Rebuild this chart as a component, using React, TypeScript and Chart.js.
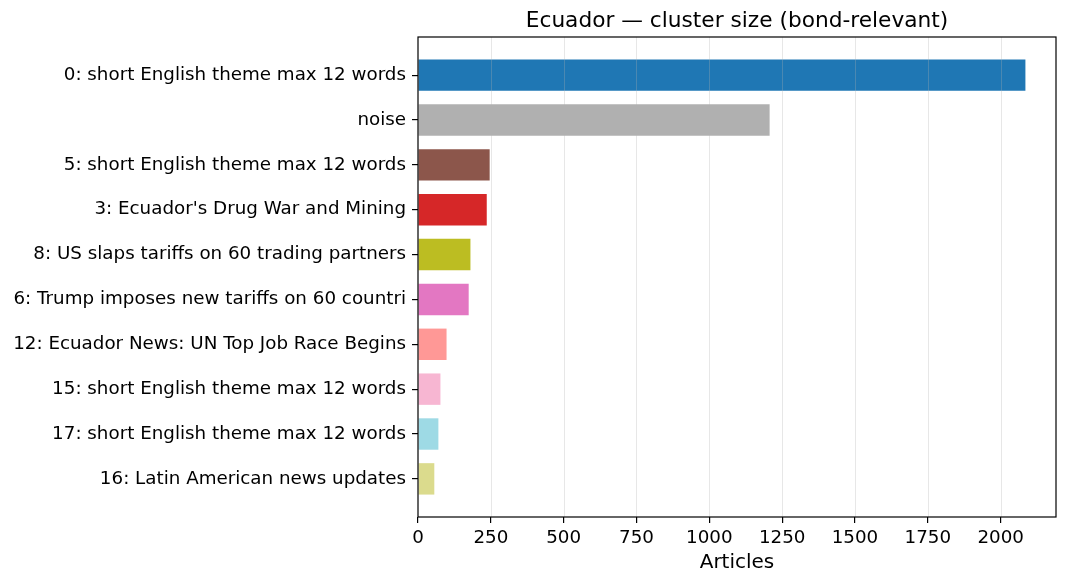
import React, { useEffect, useRef } from 'react';
import { Chart, registerables } from 'chart.js';

Chart.register(...registerables);

const categories = [
  '0: short English theme max 12 words',
  'noise',
  '5: short English theme max 12 words',
  "3: Ecuador's Drug War and Mining",
  '8: US slaps tariffs on 60 trading partners',
  '6: Trump imposes new tariffs on 60 countri',
  '12: Ecuador News: UN Top Job Race Begins',
  '15: short English theme max 12 words',
  '17: short English theme max 12 words',
  '16: Latin American news updates',
];

const articleCounts = [2085, 1207, 246, 236, 180, 174, 98, 77, 70, 56];

const barColors = [
  '#1f77b4',
  '#b0b0b0',
  '#8c564b',
  '#d62728',
  '#bcbd22',
  '#e377c2',
  '#ff9896',
  '#f7b6d2',
  '#9edae5',
  '#dbdb8d',
];

const xTicks = [0, 250, 500, 750, 1000, 1250, 1500, 1750, 2000];

const chartTitle = 'Ecuador — cluster size (bond-relevant)';
const xLabel = 'Articles';

const FONT = '"DejaVu Sans", sans-serif';
const TICK_SIZE = 18.3;

// grid over the bars, frame, title and axis label (matplotlib look)
const overlay = {
  id: 'overlay',
  afterDatasetsDraw(chart: any) {
    const { ctx, chartArea: a, scales } = chart;
    ctx.save();
    ctx.strokeStyle = 'rgba(176,176,176,0.3)';
    ctx.lineWidth = 1;
    xTicks.forEach((v) => {
      if (v === 0) return;
      const x = Math.round(scales.x.getPixelForValue(v)) + 0.5;
      ctx.beginPath();
      ctx.moveTo(x, a.top);
      ctx.lineTo(x, a.bottom);
      ctx.stroke();
    });
    ctx.strokeStyle = '#000';
    ctx.lineWidth = 1.2;
    ctx.strokeRect(a.left, a.top, a.right - a.left, a.bottom - a.top);

    ctx.fillStyle = '#000';
    ctx.textAlign = 'center';
    ctx.textBaseline = 'middle';
    ctx.font = `21.7px ${FONT}`;
    ctx.fillText(chartTitle, (a.left + a.right) / 2, 21);
    ctx.font = `20px ${FONT}`;
    ctx.fillText(xLabel, (a.left + a.right) / 2, 563);
    ctx.restore();
  },
};

const App: React.FC = () => {
  const chartRef = useRef<HTMLCanvasElement>(null);
  const chartInstance = useRef<Chart | null>(null);

  useEffect(() => {
    document.body.style.margin = '0';
    if (!chartRef.current) return;
    const ctx = chartRef.current.getContext('2d');
    if (!ctx) return;

    if (chartInstance.current) {
      chartInstance.current.destroy();
    }

    chartInstance.current = new Chart(ctx, {
      type: 'bar',
      data: {
        datasets: [
          {
            label: 'Articles',
            data: articleCounts.map((v, i) => ({ x: v, y: i })),
            backgroundColor: barColors,
            borderWidth: 0,
            categoryPercentage: 1,
            barPercentage: 0.7,
          },
        ],
      },
      plugins: [overlay],
      options: {
        indexAxis: 'y',
        responsive: true,
        maintainAspectRatio: false,
        animation: false,
        layout: { padding: { top: 37, right: 11, left: 0, bottom: 0 } },
        scales: {
          x: {
            type: 'linear',
            min: 0,
            max: 2190,
            offset: false,
            afterBuildTicks: (scale: any) => {
              scale.ticks = xTicks.map((v) => ({ value: v }));
            },
            afterFit: (scale: any) => {
              scale.height = 67;
            },
            border: { display: false },
            grid: {
              offset: false,
              drawOnChartArea: false,
              drawTicks: true,
              tickLength: 6,
              tickColor: '#000',
              lineWidth: 1.2,
            },
            ticks: {
              color: '#000',
              padding: 4,
              maxRotation: 0,
              font: { family: 'DejaVu Sans', size: TICK_SIZE },
              callback: (value: any) => String(value),
            },
          },
          y: {
            type: 'linear',
            min: -0.85,
            max: 9.85,
            reverse: true,
            offset: false,
            afterBuildTicks: (scale: any) => {
              scale.ticks = categories.map((_, i) => ({ value: i }));
            },
            afterFit: (scale: any) => {
              scale.width = 418;
            },
            border: { display: false },
            grid: {
              offset: false,
              drawOnChartArea: false,
              drawTicks: true,
              tickLength: 6,
              tickColor: '#000',
              lineWidth: 1.2,
            },
            ticks: {
              color: '#000',
              padding: 6,
              autoSkip: false,
              font: { family: 'DejaVu Sans', size: TICK_SIZE },
              callback: (value: any) => categories[Number(value)] ?? '',
            },
          },
        },
        plugins: {
          legend: { display: false },
          title: { display: false },
          tooltip: { enabled: false },
        },
      },
    });

    return () => {
      if (chartInstance.current) {
        chartInstance.current.destroy();
        chartInstance.current = null;
      }
    };
  }, []);

  return (
    <div style={{ width: '1067px', height: '584px', background: '#fff' }}>
      <canvas ref={chartRef} />
    </div>
  );
};

export default App;
